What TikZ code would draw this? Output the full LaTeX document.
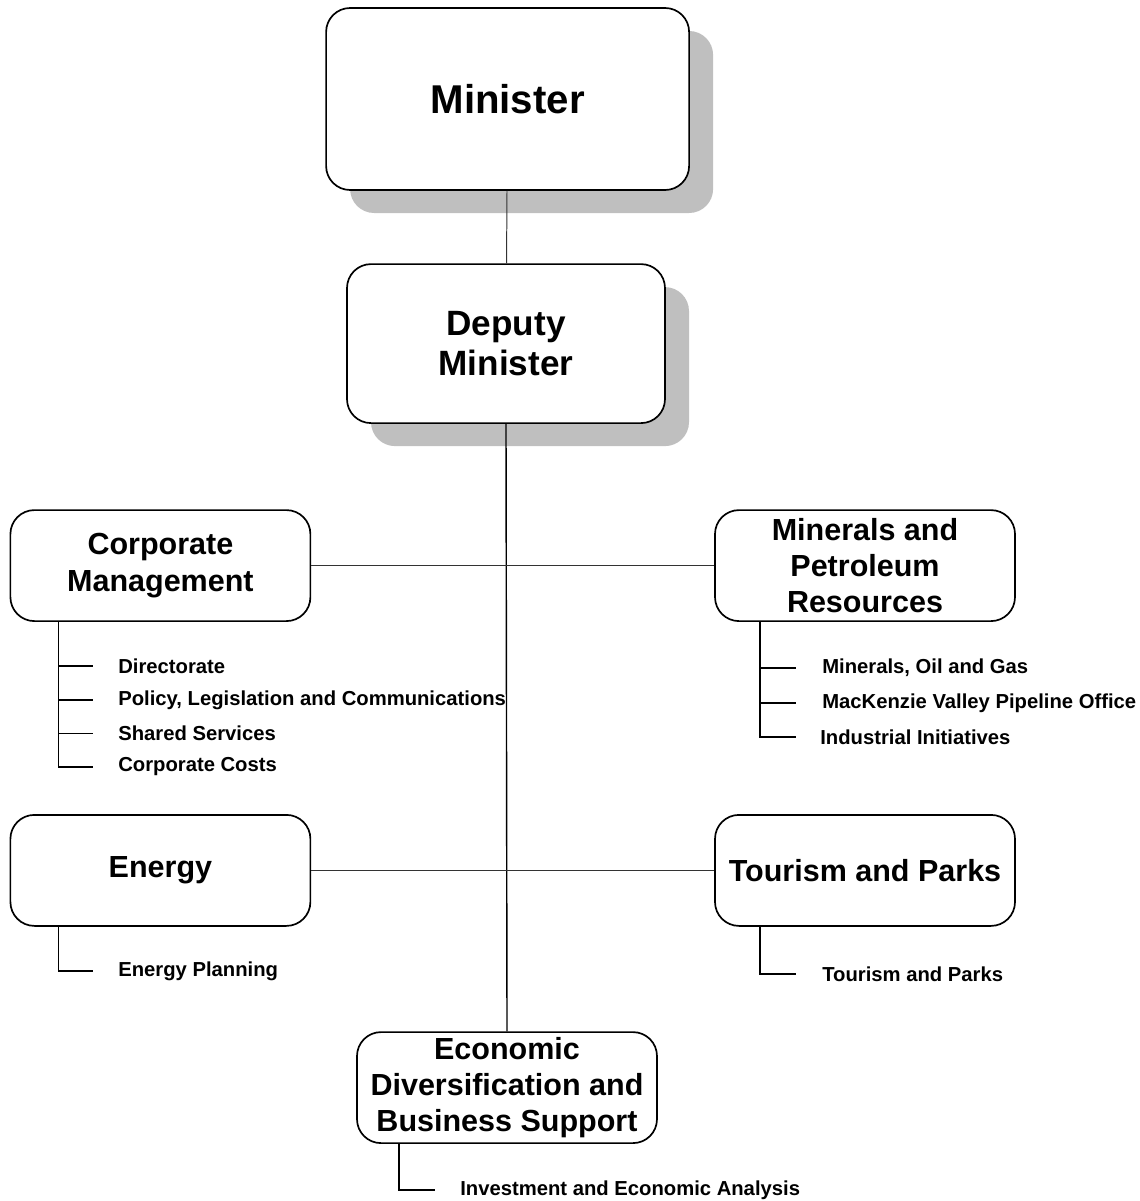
\documentclass[tikz,border=0pt]{standalone}
\usepackage{fontspec}
\setmainfont{Liberation Sans}
\usetikzlibrary{shadows}

\begin{document}
\begin{tikzpicture}[every node/.style={align=center,font=\bfseries},
    unit/.style={draw,line width=1.2pt,rounded corners=0.6cm,fill=white,
      minimum width=7.5cm,minimum height=2.775cm,inner sep=2pt,
      font=\fontsize{21.7}{25.8}\selectfont\bfseries},
    topunit/.style={unit,drop shadow={shadow xshift=0.6cm,shadow yshift=-0.575cm,
      fill=black!25,opacity=1}},
    item/.style={anchor=west,inner sep=0pt,font=\fontsize{14.4}{17}\selectfont\bfseries},
    link/.style={line width=0.7pt,black!80},
    branch/.style={line width=1pt}]
  \useasboundingbox (0,0) rectangle (28.5,-30.025);

  \node[topunit,minimum width=9.075cm,minimum height=4.55cm,
    font=\fontsize{28.6}{32}\selectfont\bfseries] (min) at (12.69,-2.475) {Minister};
  \node[topunit,minimum width=7.95cm,minimum height=3.975cm,
    font=\fontsize{25}{29}\selectfont\bfseries] (dep) at (12.65,-8.59) {Deputy\\Minister};

  \node[unit] (corp) at (4.01,-14.14) {Corporate\\Management};
  \node[unit] (mpr) at (21.625,-14.14) {Minerals and\\Petroleum\\Resources};
  \node[unit] (nrg) at (4.01,-21.76) {Energy};
  \node[unit] (tap) at (21.625,-21.76) {Tourism and Parks};
  \node[unit] (edbs) at (12.675,-27.19) {Economic\\Diversification and\\Business Support};

  \draw[link] (min) -- (dep);
  \draw[branch] (dep.south) -- (edbs.north);
  \draw[link] (corp) -- (mpr);
  \draw[link] (nrg) -- (tap);

  % divisions
  \node[item] (dir) at (2.95,-16.65) {Directorate};
  \node[item] (plc) at (2.95,-17.5) {Policy, Legislation and Communications};
  \node[item] (shs) at (2.95,-18.33) {Shared Services};
  \node[item] (cc) at (2.95,-19.17) {Corporate Costs};
  \node[item] (mog) at (20.55,-16.7) {Minerals, Oil and Gas};
  \node[item] (mvp) at (20.55,-17.57) {MacKenzie Valley Pipeline Office};
  \node[item] (ii) at (20.5,-18.42) {Industrial Initiatives};
  \node[item] (ep) at (2.95,-24.27) {Energy Planning};
  \node[item] (tp) at (20.55,-24.35) {Tourism and Parks};
  \node[item] (iea) at (11.5,-29.75) {Investment and Economic Analysis};

  \foreach \sub in {dir,plc,shs}
    \draw[branch] ([xshift=1.225cm]corp.south west) |- ([xshift=-0.625cm]\sub.west);
  \draw[branch] ([xshift=1.225cm]corp.south west) |- ([xshift=-0.625cm]cc.west);
  \foreach \sub in {mog,mvp}
    \draw[branch] ([xshift=1.15cm]mpr.south west) |- ([xshift=-0.65cm]\sub.west);
  \draw[branch] ([xshift=1.15cm]mpr.south west) |- ([xshift=-0.6cm]ii.west);
  \draw[branch] ([xshift=1.225cm]nrg.south west) |- ([xshift=-0.625cm]ep.west);
  \draw[branch] ([xshift=1.15cm]tap.south west) |- ([xshift=-0.65cm]tp.west);
  \draw[branch] ([xshift=1.075cm]edbs.south west) |- ([xshift=-0.625cm]iea.west);
\end{tikzpicture}
\end{document}
